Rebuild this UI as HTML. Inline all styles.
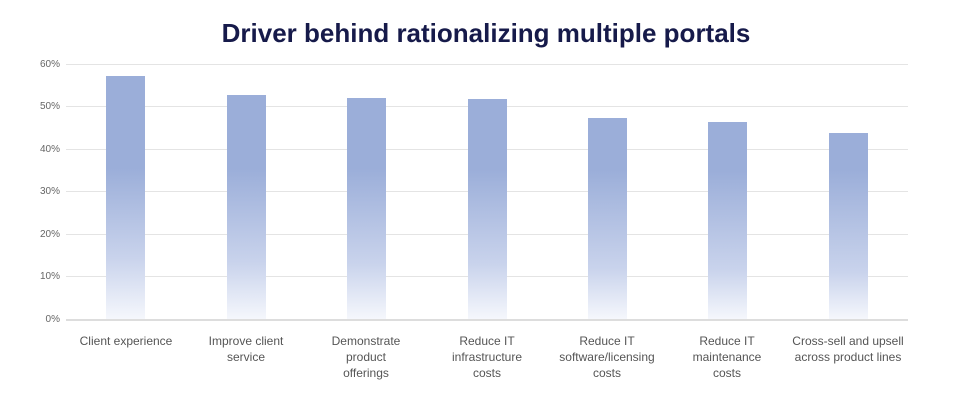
<!DOCTYPE html>
<html><head><style>
body{margin:0;width:972px;height:401px;background:#fff;font-family:"Liberation Sans",sans-serif;position:relative;overflow:hidden}
.t{position:absolute;top:18px;left:0;width:972px;text-align:center;font-weight:bold;font-size:26px;color:#161a4a}
.g{position:absolute;left:66px;width:842px;height:1px;background:#e4e4e4}
.y{position:absolute;left:20px;width:40px;text-align:right;font-size:10px;color:#666}
.b{position:absolute;width:39px;background:linear-gradient(to bottom,#9baed9 0,#9baed9 var(--s),#c9d3ec 75%,#f5f7fc 100%)}
.l{position:absolute;top:333px;width:130px;text-align:center;font-size:12px;line-height:16px;color:#555}
</style></head><body>
<div class="t">Driver behind rationalizing multiple portals</div>
<div class="g" style="top:64px"></div><div class="y" style="top:59px">60%</div>
<div class="g" style="top:106px"></div><div class="y" style="top:101px">50%</div>
<div class="g" style="top:149px"></div><div class="y" style="top:144px">40%</div>
<div class="g" style="top:191px"></div><div class="y" style="top:186px">30%</div>
<div class="g" style="top:234px"></div><div class="y" style="top:229px">20%</div>
<div class="g" style="top:276px"></div><div class="y" style="top:271px">10%</div>
<div class="g" style="top:319px;background:#ddd;height:2px"></div><div class="y" style="top:314px">0%</div>
<div class="b" style="left:106px;top:76px;height:243px;--s:38%"></div>
<div class="b" style="left:227px;top:95px;height:224px;--s:33%"></div>
<div class="b" style="left:347px;top:98px;height:221px;--s:32%"></div>
<div class="b" style="left:468px;top:99px;height:220px;--s:32%"></div>
<div class="b" style="left:588px;top:118px;height:201px;--s:26%"></div>
<div class="b" style="left:708px;top:122px;height:197px;--s:25%"></div>
<div class="b" style="left:829px;top:133px;height:186px;--s:20%"></div>
<div class="l" style="left:61px">Client experience</div>
<div class="l" style="left:181px">Improve client<br>service</div>
<div class="l" style="left:301px">Demonstrate<br>product<br>offerings</div>
<div class="l" style="left:422px">Reduce IT<br>infrastructure<br>costs</div>
<div class="l" style="left:542px">Reduce IT<br>software/licensing<br>costs</div>
<div class="l" style="left:662px">Reduce IT<br>maintenance<br>costs</div>
<div class="l" style="left:783px;width:130px">Cross-sell and upsell<br>across product lines</div>
</body></html>
